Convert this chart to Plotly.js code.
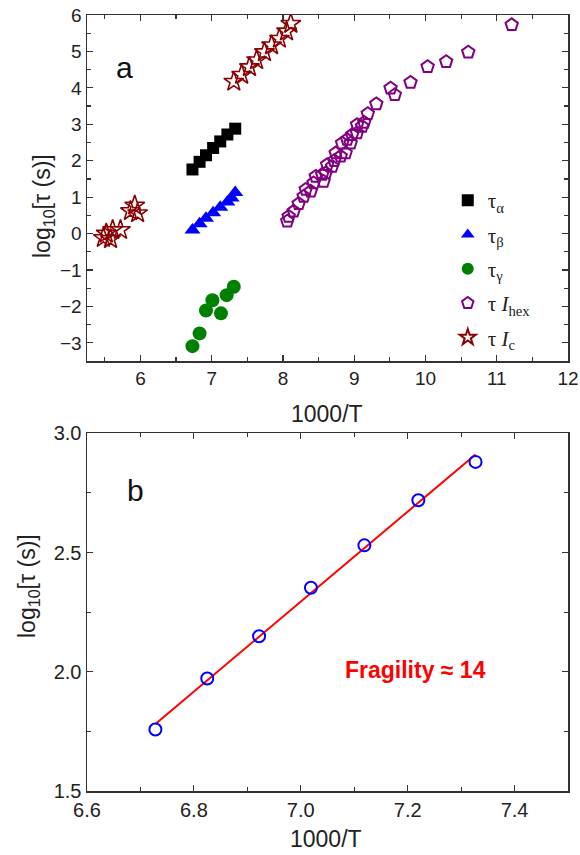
<!DOCTYPE html>
<html><head><meta charset="utf-8">
<script src="https://cdn.plot.ly/plotly-3.0.1.min.js"></script>
<style>html,body{margin:0;padding:0;background:#fff}#chart{width:580px;height:855px}</style>
</head><body><div id="chart"></div>
<script>
// Panel a data (1000/T, log10 tau)
const alphaX = [6.73, 6.83, 6.92, 7.02, 7.12, 7.22, 7.33];
const alphaY = [1.76, 1.97, 2.15, 2.35, 2.53, 2.72, 2.88];
const betaX = [6.73, 6.83, 6.92, 7.02, 7.12, 7.22, 7.28, 7.33];
const betaY = [0.10, 0.27, 0.42, 0.57, 0.72, 0.87, 0.98, 1.13];
const gammaX = [6.73, 6.83, 6.92, 7.01, 7.13, 7.21, 7.31];
const gammaY = [-3.09, -2.74, -2.11, -1.83, -2.19, -1.69, -1.46];
const hexX = [8.06, 8.08, 8.15, 8.22, 8.29, 8.32, 8.39, 8.43, 8.46, 8.55, 8.57, 8.60, 8.62, 8.69, 8.72, 8.74, 8.81, 8.83, 8.88, 8.90, 8.95, 8.97, 9.04, 9.04, 9.11, 9.14, 9.19, 9.31, 9.51, 9.57, 9.79, 10.03, 10.29, 10.60, 11.21];
const hexY = [0.34, 0.47, 0.61, 0.82, 1.02, 1.21, 1.16, 1.39, 1.57, 1.62, 1.43, 1.66, 1.89, 1.84, 2.00, 2.21, 2.12, 2.48, 2.21, 2.58, 2.48, 2.71, 2.76, 2.99, 2.94, 3.05, 3.29, 3.56, 3.99, 3.81, 4.15, 4.58, 4.72, 4.98, 5.73];
const icX = [5.48, 5.52, 5.58, 5.61, 5.72, 5.86, 5.92, 5.96, 7.31, 7.42, 7.53, 7.63, 7.74, 7.84, 7.95, 8.05, 8.11];
const icY = [-0.12, 0.00, -0.15, 0.10, 0.10, 0.62, 0.77, 0.56, 4.17, 4.36, 4.57, 4.76, 4.98, 5.17, 5.35, 5.55, 5.76];
// Panel b data
const bX = [6.728, 6.825, 6.922, 7.019, 7.119, 7.220, 7.327];
const bY = [1.758, 1.972, 2.149, 2.352, 2.530, 2.719, 2.880];
const fitX = [6.728, 7.327];
const fitY = [1.781, 2.911];
const legendNames = ['τ<sub>α</sub>', 'τ<sub>β</sub>', 'τ<sub>γ</sub>', 'τ <i>I</i><sub>hex</sub>', 'τ <i>I</i><sub>c</sub>'];
const yTitle = 'log<sub>10</sub>[τ (s)]';
const xTitle = '1000/T';

const F = 'Liberation Sans, Arial, sans-serif';
const traces = [
  {x: alphaX, y: alphaY, name: legendNames[0], legendgroup: 'a', mode: 'markers', xaxis: 'x', yaxis: 'y',
   marker: {symbol: 'square', size: 12, color: '#000'}},
  {x: betaX, y: betaY, name: legendNames[1], legendgroup: 'b', mode: 'markers', xaxis: 'x', yaxis: 'y',
   marker: {symbol: 'triangle-up', size: 14, color: '#0000ff'}},
  {x: gammaX, y: gammaY, name: legendNames[2], legendgroup: 'c', mode: 'markers', xaxis: 'x', yaxis: 'y',
   marker: {symbol: 'circle', size: 14, color: '#008000'}},
  {x: hexX, y: hexY, name: legendNames[3], legendgroup: 'd', mode: 'markers', xaxis: 'x', yaxis: 'y',
   marker: {symbol: 'pentagon-open', size: 13, color: '#800080', line: {width: 2, color: '#800080'}}},
  {x: icX, y: icY, name: legendNames[4], legendgroup: 'e', mode: 'markers', xaxis: 'x', yaxis: 'y',
   marker: {symbol: 'star-open', size: 15, color: '#8b0000', line: {width: 1.6, color: '#8b0000'}}},
  {x: fitX, y: fitY, mode: 'lines', xaxis: 'x2', yaxis: 'y2', showlegend: false,
   line: {color: '#ff0000', width: 2}},
  {x: bX, y: bY, mode: 'markers', xaxis: 'x2', yaxis: 'y2', showlegend: false,
   marker: {symbol: 'circle-open', size: 12, color: '#0000ff', line: {width: 2, color: '#0000ff'}}}
];

const axBase = {showgrid: false, zeroline: false, showline: true, linecolor: '#333', linewidth: 1.5,
  ticks: 'inside', ticklen: 6, tickwidth: 1.2, tickcolor: '#333', mirror: 'ticks',
  tickfont: {family: F, size: 19, color: '#222'}};

// helper: pixel -> paper fraction (plot area 87..568 x, 15..791 y)
const px = v => (v - 87) / 481;
const py = v => (791 - v) / 776;

const ann = (text, x, y, size, angle) => ({text: text, x: px(x), y: py(y), xref: 'paper', yref: 'paper',
  xanchor: 'center', yanchor: 'middle', showarrow: false, textangle: angle || 0,
  font: {family: F, size: size, color: '#222'}});

const layout = {
  width: 580, height: 855,
  margin: {l: 87, r: 12, t: 15, b: 64},
  paper_bgcolor: '#fff', plot_bgcolor: '#fff',
  font: {family: F, color: '#222'},
  showlegend: true,
  legend: {x: 0.75, xanchor: 'left', y: py(180), yanchor: 'top', traceorder: 'grouped', tracegroupgap: 4,
    itemsizing: 'constant',
    font: {family: 'Liberation Serif, Times New Roman, serif', size: 21, color: '#222'}, bgcolor: 'rgba(0,0,0,0)'},
  xaxis: Object.assign({}, axBase, {domain: [0, 1], anchor: 'y', range: [5.25, 12], dtick: 1, tick0: 0,
    minor: {dtick: 0.5, tick0: 0, ticklen: 4, ticks: 'inside', tickcolor: '#333'}}),
  yaxis: Object.assign({}, axBase, {domain: [0.554, 1], anchor: 'x', range: [-3.5, 6], dtick: 1, tick0: 0,
    minor: {dtick: 0.5, tick0: 0, ticklen: 4, ticks: 'inside', tickcolor: '#333'}}),
  xaxis2: Object.assign({}, axBase, {domain: [0, 1], anchor: 'y2', range: [6.6, 7.5], dtick: 0.2, tick0: 6.6, tickformat: '.1f',
    tickfont: {family: F, size: 20, color: '#222'},
    minor: {dtick: 0.1, tick0: 6.6, ticklen: 4, ticks: 'inside', tickcolor: '#333'}}),
  yaxis2: Object.assign({}, axBase, {domain: [0, 0.461], anchor: 'x2', range: [1.5, 3.0], dtick: 0.5, tick0: 1.5, tickformat: '.1f',
    tickfont: {family: F, size: 20, color: '#222'},
    minor: {dtick: 0.25, tick0: 1.5, ticklen: 4, ticks: 'inside', tickcolor: '#333'}}),
  annotations: [
    {text: 'a', x: 5.77, y: 4.55, xref: 'x', yref: 'y', showarrow: false, font: {family: F, size: 30, color: '#111'}},
    {text: 'b', x: 6.69, y: 2.76, xref: 'x2', yref: 'y2', showarrow: false, font: {family: F, size: 30, color: '#111'}},
    {text: '<b>Fragility ≈ 14</b>', x: 7.215, y: 2.007, xref: 'x2', yref: 'y2', showarrow: false,
     font: {family: F, size: 23, color: '#ff0000'}},
    ann(xTitle, 327, 414, 23),
    ann(xTitle, 326, 839, 23),
    ann(yTitle, 43, 206, 23, -90),
    ann(yTitle, 28, 586, 23, -90)
  ]
};
Plotly.newPlot('chart', traces, layout, {displayModeBar: false, staticPlot: true});
</script></body></html>
